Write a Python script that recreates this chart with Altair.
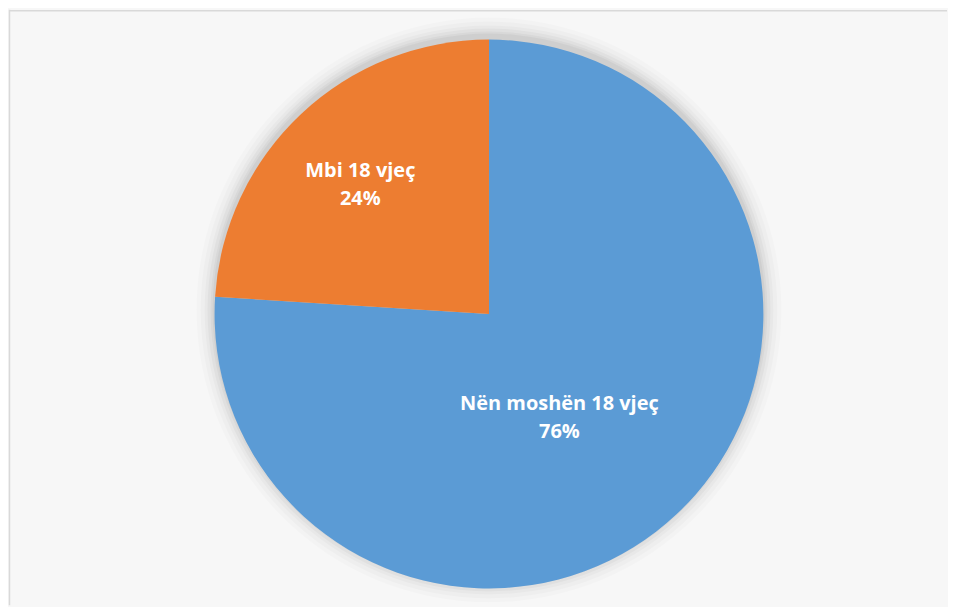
import altair as alt
import pandas as pd

# Data
categories = ["Nën moshën 18 vjeç", "Mbi 18 vjeç"]
percent = [76, 24]
pct_labels = ["76%", "24%"]
colors = ["#5B9BD5", "#ED7D31"]

df = pd.DataFrame({
    "cat": categories,
    "value": percent,
    "ord": [0, 1],
    "label": [c + "\n" + p for c, p in zip(categories, pct_labels)],
})

W, H = 940, 597
CX, CY = 481, 305
R = 275
BG = "#f7f7f7"

theta_scale = alt.Scale(domain=[0, 100])

# soft shadow around the pie
shadow_df = pd.DataFrame({"k": [0]})
shadows = []
for extra, op in [(18, 0.015), (14, 0.02), (10, 0.025), (7, 0.03), (4, 0.035), (2, 0.04)]:
    shadows.append(
        alt.Chart(shadow_df).mark_arc(
            theta=0, theta2=6.2832, radius=R + extra, x=CX, y=CY - 4
        ).encode(color=alt.value("#000000"), opacity=alt.value(op))
    )

pie = alt.Chart(df).mark_arc(radius=R, x=CX, y=CY).encode(
    theta=alt.Theta("value:Q", stack=True, scale=theta_scale),
    order=alt.Order("ord:Q"),
    color=alt.Color("cat:N", scale=alt.Scale(domain=categories, range=colors), legend=None),
)

def label_layer(cat, radius, dx, dy):
    return alt.Chart(df).transform_window(
        cum="sum(value)", sort=[alt.SortField("ord")]
    ).transform_calculate(
        mid="datum.cum - datum.value / 2"
    ).transform_filter(
        alt.datum.cat == cat
    ).mark_text(
        radius=radius, x=CX, y=CY, dx=dx, dy=dy,
        font="Open Sans", fontWeight="bold", fontSize=20, color="white",
        lineBreak="\n", lineHeight=28, align="center", baseline="middle",
    ).encode(
        theta=alt.Theta("mid:Q", scale=theta_scale),
        text="label:N",
    )

lab_orange = label_layer("Mbi 18 vjeç", 181, -5, -11)
lab_blue = label_layer("Nën moshën 18 vjeç", 125, -15, -1)

frame_left = alt.Chart(shadow_df).mark_rule(color="#d9d9d9", strokeWidth=1.5).encode(
    x=alt.value(0.5), y=alt.value(0), y2=alt.value(H)
)
frame_top = alt.Chart(shadow_df).mark_rule(color="#d9d9d9", strokeWidth=1.5).encode(
    x=alt.value(0), x2=alt.value(W), y=alt.value(1)
)

chart = alt.layer(
    *shadows, pie, lab_orange, lab_blue, frame_left, frame_top
).properties(
    width=W, height=H, padding=0, background=BG
).configure_view(
    stroke=None, fill=BG
)

chart.save("out.html", embed_options={"renderer": "svg", "actions": False})
